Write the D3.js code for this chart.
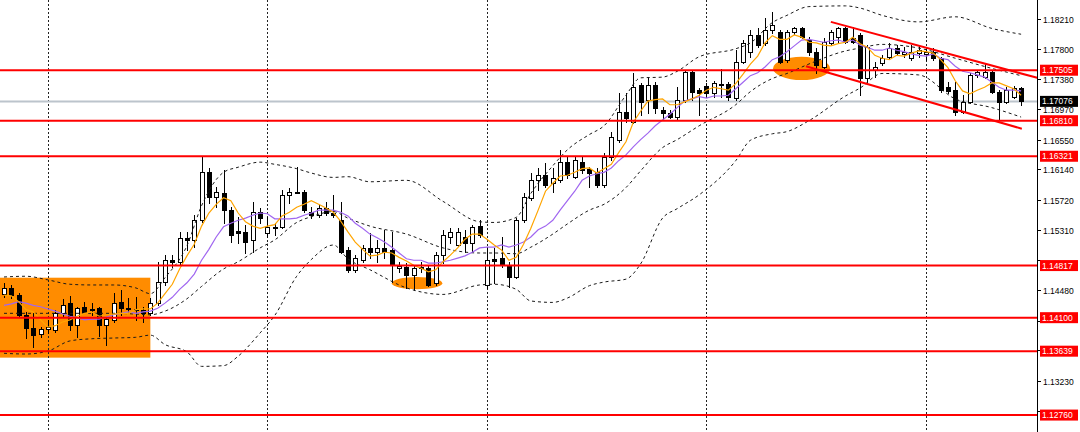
<!DOCTYPE html>
<html><head><meta charset="utf-8">
<script src="https://cdn.jsdelivr.net/npm/d3@7"></script>
<style>html,body{margin:0;padding:0;background:#fff;overflow:hidden}svg{display:block}</style>
</head><body><svg id="c" width="1080" height="432"></svg>
<script>
// ---- candle data (one entry per bar, oldest first) ----
const opens = [1.14427,1.14509,1.14413,1.14138,1.13959,1.13876,1.13945,1.13931,1.14165,1.14303,
1.14000,1.14248,1.14220,1.14234,1.14000,1.14069,1.14316,1.14234,1.14220,1.14206,
1.14165,1.14303,1.14592,1.14894,1.14867,1.15197,1.15170,1.15445,1.16104,1.15761,
1.15815,1.15582,1.15294,1.15280,1.15170,1.15555,1.15266,1.15349,1.15349,1.15788,
1.15829,1.15829,1.15555,1.15514,1.15610,1.15541,1.15445,1.15032,1.14757,1.14894,
1.15060,1.15005,1.15060,1.15032,1.14784,1.14798,1.14688,1.14798,1.14784,1.14578,
1.14963,1.15211,1.15101,1.15211,1.15129,1.15362,1.14551,1.14908,1.14922,1.14826,
1.14661,1.15445,1.15747,1.15994,1.16063,1.15953,1.15994,1.16242,1.16035,1.16242,
1.16145,1.16104,1.15925,1.16311,1.16545,1.16930,1.16792,1.17301,1.17095,1.17301,
1.16957,1.16916,1.16861,1.17095,1.17480,1.17233,1.17288,1.17191,1.17315,1.17315,
1.17123,1.17618,1.17755,1.17989,1.17879,1.18058,1.18031,1.17645,1.18031,1.18086,
1.17921,1.17755,1.17549,1.17879,1.17962,1.18086,1.17948,1.17989,1.17398,1.17508,
1.17604,1.17687,1.17811,1.17728,1.17673,1.17742,1.17728,1.17755,1.17673,1.17274,
1.17233,1.16930,1.17067,1.17439,1.17411,1.17480,1.17205,1.17067,1.17136,1.17260];
const highs = [1.14578,1.14551,1.14441,1.14179,1.14165,1.13973,1.14069,1.14206,1.14358,1.14399,
1.14248,1.14316,1.14303,1.14248,1.14110,1.14441,1.14482,1.14372,1.14386,1.14248,
1.14372,1.14867,1.14963,1.14963,1.15280,1.15280,1.15514,1.16311,1.16159,1.15898,
1.16132,1.15624,1.15486,1.15376,1.15692,1.15610,1.15486,1.15404,1.15857,1.15884,
1.16173,1.15857,1.15624,1.15651,1.15692,1.15788,1.15692,1.15074,1.14963,1.15101,
1.15266,1.15170,1.15307,1.15280,1.14867,1.14853,1.14826,1.14867,1.14826,1.15005,
1.15307,1.15335,1.15335,1.15307,1.15376,1.15445,1.15074,1.15060,1.15211,1.14867,
1.15472,1.15815,1.16090,1.16159,1.16228,1.16159,1.16407,1.16311,1.16311,1.16311,
1.16173,1.16159,1.16366,1.16655,1.17191,1.17191,1.17467,1.17329,1.17411,1.17343,
1.16999,1.16957,1.17274,1.17508,1.17508,1.17260,1.17329,1.17356,1.17522,1.17343,
1.17783,1.17921,1.18058,1.18086,1.18223,1.18306,1.18058,1.18058,1.18099,1.18099,
1.17962,1.17811,1.17948,1.18058,1.18099,1.18099,1.18099,1.18017,1.17852,1.17618,
1.17714,1.17879,1.17852,1.17824,1.17852,1.17852,1.17824,1.17811,1.17687,1.17343,
1.17343,1.17164,1.17467,1.17508,1.17604,1.17508,1.17233,1.17274,1.17288,1.17274];
const lows = [1.14386,1.14372,1.14124,1.13821,1.13697,1.13835,1.13890,1.13904,1.14110,1.13931,
1.13835,1.14165,1.14138,1.13849,1.13725,1.14041,1.14138,1.14165,1.14069,1.14041,
1.14138,1.14275,1.14551,1.14798,1.14826,1.15032,1.15074,1.15417,1.15679,1.15624,
1.15404,1.15142,1.15129,1.14991,1.15005,1.15404,1.15211,1.15239,1.15335,1.15679,
1.15815,1.15555,1.15472,1.15486,1.15514,1.15486,1.14991,1.14729,1.14729,1.14867,
1.14922,1.14867,1.14922,1.14592,1.14729,1.14509,1.14482,1.14729,1.14537,1.14551,
1.14853,1.15129,1.15087,1.15005,1.15005,1.15211,1.14509,1.14578,1.14798,1.14523,
1.14647,1.15417,1.15720,1.15857,1.15898,1.15829,1.15967,1.16021,1.16021,1.16090,
1.15898,1.15898,1.15898,1.16269,1.16517,1.16792,1.16778,1.16889,1.16916,1.16916,
1.16820,1.16847,1.16820,1.17067,1.17095,1.16889,1.17136,1.17136,1.17136,1.17095,
1.17095,1.17604,1.17687,1.17824,1.17852,1.18017,1.17604,1.17618,1.18003,1.17948,
1.17714,1.17467,1.17535,1.17852,1.17879,1.17879,1.17879,1.17164,1.17343,1.17411,
1.17577,1.17673,1.17714,1.17687,1.17645,1.17687,1.17645,1.17645,1.17205,1.17191,
1.16889,1.16916,1.17054,1.17411,1.17398,1.17191,1.16820,1.17054,1.17123,1.17026];
const closes = [1.14509,1.14413,1.14138,1.13959,1.13862,1.13945,1.13973,1.14165,1.14275,1.14000,
1.14234,1.14179,1.14206,1.14000,1.14083,1.14303,1.14234,1.14220,1.14206,1.14165,
1.14303,1.14592,1.14894,1.14867,1.15197,1.15170,1.15445,1.16104,1.15761,1.15829,
1.15582,1.15239,1.15266,1.15142,1.15555,1.15472,1.15349,1.15335,1.15788,1.15829,
1.15815,1.15582,1.15514,1.15610,1.15541,1.15514,1.15005,1.14757,1.14922,1.15060,
1.15005,1.15060,1.15005,1.14826,1.14812,1.14688,1.14784,1.14784,1.14551,1.14963,
1.15239,1.15280,1.15280,1.15129,1.15349,1.15239,1.14894,1.14881,1.14826,1.14661,
1.15445,1.15761,1.15994,1.16063,1.15925,1.16021,1.16242,1.16063,1.16269,1.16132,
1.16090,1.15925,1.16311,1.16586,1.16930,1.16847,1.17274,1.17067,1.17301,1.16985,
1.16916,1.16861,1.17095,1.17480,1.17205,1.17191,1.17191,1.17329,1.17301,1.17136,
1.17618,1.17879,1.17989,1.17852,1.18058,1.18127,1.17618,1.18031,1.18086,1.17962,
1.17755,1.17577,1.17893,1.18031,1.18086,1.17893,1.17893,1.17398,1.17824,1.17549,
1.17673,1.17811,1.17742,1.17755,1.17755,1.17783,1.17755,1.17673,1.17233,1.17219,
1.16930,1.17067,1.17439,1.17480,1.17480,1.17205,1.17067,1.17233,1.17260,1.17076];

// ---- moving averages (read per bar) ----
const maFast = [1.1441,1.1440,1.1432,1.1421,1.1418,1.1407,1.1397,1.1399,1.1404,1.1407,
1.1412,1.1416,1.1418,1.1412,1.1414,1.1415,1.1416,1.1416,1.1421,1.1422,
1.1422,1.1430,1.1443,1.1456,1.1477,1.1495,1.1511,1.1536,1.1554,1.1566,
1.1575,1.1571,1.1554,1.1542,1.1536,1.1533,1.1536,1.1538,1.1550,1.1555,
1.1562,1.1566,1.1571,1.1566,1.1561,1.1555,1.1543,1.1528,1.1514,1.1504,
1.1495,1.1496,1.1500,1.1499,1.1493,1.1488,1.1482,1.1478,1.1473,1.1476,
1.1487,1.1496,1.1506,1.1518,1.1525,1.1525,1.1518,1.1510,1.1503,1.1489,
1.1493,1.1511,1.1533,1.1558,1.1584,1.1595,1.1605,1.1606,1.1610,1.1615,
1.1616,1.1609,1.1615,1.1621,1.1637,1.1652,1.1679,1.1694,1.1708,1.1710,
1.1711,1.1703,1.1703,1.1707,1.1711,1.1716,1.1723,1.1727,1.1725,1.1723,
1.1732,1.1745,1.1759,1.1770,1.1788,1.1798,1.1793,1.1793,1.1799,1.1796,
1.1789,1.1788,1.1785,1.1784,1.1787,1.1789,1.1796,1.1787,1.1782,1.1771,
1.1767,1.1765,1.1771,1.1770,1.1774,1.1777,1.1776,1.1774,1.1765,1.1754,
1.1736,1.1722,1.1718,1.1723,1.1727,1.1733,1.1733,1.1729,1.1725,1.1716];
const maSlow = [1.1427,1.1429,1.1432,1.1430,1.1427,1.1425,1.1422,1.1419,1.1415,1.1412,
1.1410,1.1407,1.1408,1.1408,1.1411,1.1414,1.1416,1.1418,1.1416,1.1418,
1.1419,1.1423,1.1430,1.1438,1.1449,1.1458,1.1470,1.1489,1.1504,1.1521,
1.1535,1.1540,1.1544,1.1547,1.1551,1.1554,1.1553,1.1546,1.1546,1.1546,
1.1547,1.1551,1.1554,1.1558,1.1558,1.1558,1.1555,1.1550,1.1540,1.1533,
1.1525,1.1520,1.1514,1.1507,1.1499,1.1491,1.1489,1.1489,1.1485,1.1485,
1.1487,1.1489,1.1492,1.1495,1.1500,1.1506,1.1507,1.1507,1.1510,1.1507,
1.1510,1.1514,1.1521,1.1531,1.1536,1.1544,1.1558,1.1571,1.1584,1.1599,
1.1605,1.1608,1.1610,1.1616,1.1626,1.1634,1.1645,1.1655,1.1664,1.1674,
1.1682,1.1690,1.1699,1.1708,1.1711,1.1714,1.1712,1.1715,1.1715,1.1716,
1.1725,1.1734,1.1743,1.1747,1.1755,1.1765,1.1769,1.1776,1.1784,1.1792,
1.1793,1.1791,1.1789,1.1791,1.1792,1.1789,1.1792,1.1785,1.1782,1.1778,
1.1778,1.1781,1.1778,1.1776,1.1773,1.1771,1.1770,1.1773,1.1767,1.1765,
1.1756,1.1749,1.1747,1.1744,1.1741,1.1734,1.1727,1.1723,1.1723,1.1722];

// ---- Bollinger bands (sampled bars) ----
const bandIdx = [0,3,6,9,12,15,18,20,22,25,27,30,32,35,37,40,42,45,47,50,55,60,65,67,70,72,75,77,80,82,85,87,90,92,95,100,102,105,107,110,115,117,120,125,130,135,139];
const bandUpper = [1.1466,1.1467,1.1462,1.1456,1.1455,1.1455,1.1451,1.1443,1.1465,1.1509,1.1564,1.1610,1.1617,1.1624,1.1621,1.1615,1.1609,1.1603,1.1604,1.1597,1.1599,1.1570,1.1542,1.1541,1.1548,1.1581,1.1619,1.1641,1.1662,1.1674,1.1716,1.1740,1.1741,1.1749,1.1769,1.1780,1.1788,1.1816,1.1826,1.1838,1.1839,1.1836,1.1826,1.1817,1.1824,1.1808,1.1800];
const bandMiddle = [1.1416,1.1416,1.1416,1.1416,1.1416,1.1416,1.1415,1.1414,1.1419,1.1436,1.1453,1.1477,1.1487,1.1506,1.1517,1.1541,1.1549,1.1556,1.1547,1.1536,1.1525,1.1506,1.1499,1.1499,1.1498,1.1507,1.1525,1.1539,1.1558,1.1566,1.1589,1.1612,1.1644,1.1655,1.1674,1.1703,1.1721,1.1739,1.1746,1.1759,1.1777,1.1781,1.1786,1.1781,1.1767,1.1753,1.1743];
const bandLower = [1.1361,1.1360,1.1364,1.1378,1.1381,1.1382,1.1383,1.1386,1.1373,1.1363,1.1343,1.1344,1.1357,1.1389,1.1413,1.1467,1.1490,1.1510,1.1491,1.1476,1.1451,1.1442,1.1455,1.1456,1.1449,1.1433,1.1431,1.1437,1.1454,1.1459,1.1463,1.1484,1.1547,1.1560,1.1579,1.1626,1.1654,1.1663,1.1666,1.1681,1.1715,1.1726,1.1746,1.1744,1.1711,1.1699,1.1686];

// ---- levels, ticks, annotations ----
const levels = [1.17505, 1.16810, 1.16321, 1.14817, 1.14100, 1.13639, 1.12760];
const currentPrice = 1.17076;
const tickValues = [1.18210,1.17800,1.17380,1.16970,1.16550,1.16140,1.15720,1.15310,1.14890,1.14480,1.14060,1.13650,1.13230,1.12820];
const gridBars = [6, 36, 66, 96, 126];
const zoneRects = [[-0.6, 20, 1.1465, 1.1355]];            // [barFrom, barTo, priceTop, priceBottom]
const zoneEllipses = [[53.0, 59.9, 1.1466, 1.1449], [105.1, 112.9, 1.1769, 1.1737]];
const trendLines = [[113.0, 1.1817, 141.2, 1.1740], [109.6, 1.1756, 139.1, 1.1670]]; // [bar0, p0, bar1, p1]

// ---- drawing ----
const W = 1080, H = 432, axisX = 1037;
const svg = d3.select('#c');
const x = d3.scaleLinear().domain([0, 139]).range([4, 1021.1]);
const y = d3.scaleLinear().domain([1.12527, 1.18471]).range([H, 0]);
const bars = opens.map((o, i) => ({i, o, h: highs[i], l: lows[i], c: closes[i]}));

svg.append('rect').attr('width', W).attr('height', H).attr('fill', '#fff');

// background zones
const ORANGE = '#ff8c00';
svg.append('g').selectAll('rect').data(zoneRects).join('rect')
  .attr('x', d => Math.max(0, x(d[0]))).attr('y', d => y(d[2]))
  .attr('width', d => x(d[1]) - Math.max(0, x(d[0]))).attr('height', d => y(d[3]) - y(d[2]))
  .attr('fill', ORANGE);
svg.append('g').selectAll('ellipse').data(zoneEllipses).join('ellipse')
  .attr('cx', d => (x(d[0]) + x(d[1])) / 2).attr('cy', d => (y(d[2]) + y(d[3])) / 2)
  .attr('rx', d => (x(d[1]) - x(d[0])) / 2).attr('ry', d => (y(d[3]) - y(d[2])) / 2)
  .attr('fill', ORANGE);

// vertical grid
svg.append('g').selectAll('line').data(gridBars).join('line')
  .attr('x1', d => Math.round(x(d)) + 0.5).attr('x2', d => Math.round(x(d)) + 0.5)
  .attr('y1', 0).attr('y2', H)
  .attr('stroke', '#222').attr('stroke-width', 1).attr('stroke-dasharray', '2,2');

// current price line
svg.append('line').attr('x1', 0).attr('x2', axisX)
  .attr('y1', y(currentPrice)).attr('y2', y(currentPrice))
  .attr('stroke', '#bcc4cc').attr('stroke-width', 2);

// candles
const cg = svg.append('g').attr('shape-rendering', 'crispEdges');
bars.forEach(b => {
  const cx = Math.round(x(b.i));
  cg.append('rect').attr('x', cx).attr('y', Math.round(y(b.h)))
    .attr('width', 1).attr('height', Math.max(1, Math.round(y(b.l)) - Math.round(y(b.h)) + 1)).attr('fill', '#000');
  const top = Math.round(y(Math.max(b.o, b.c))), bot = Math.round(y(Math.min(b.o, b.c)));
  const hgt = Math.max(1, bot - top + 1);
  cg.append('rect').attr('x', cx - 2).attr('y', top).attr('width', 5).attr('height', hgt).attr('fill', '#000');
  if (b.c > b.o && hgt > 2) {
    cg.append('rect').attr('x', cx - 1).attr('y', top + 1).attr('width', 3).attr('height', hgt - 2).attr('fill', '#fff');
  }
});

// Bollinger bands
const bandLine = d3.line().x(d => x(d[0])).y(d => y(d[1])).curve(d3.curveMonotoneX);
[bandUpper, bandMiddle, bandLower].forEach(arr => {
  svg.append('path').datum(bandIdx.map((b, k) => [b, arr[k]]))
    .attr('d', bandLine).attr('fill', 'none')
    .attr('stroke', '#1a1a1a').attr('stroke-width', 1).attr('stroke-dasharray', '3,3');
});

// moving averages
const maLine = d3.line().x((d, i) => x(i)).y(d => y(d));
svg.append('path').datum(maSlow).attr('d', maLine).attr('fill', 'none')
  .attr('stroke', '#a066f0').attr('stroke-width', 1.2);
svg.append('path').datum(maFast).attr('d', maLine).attr('fill', 'none')
  .attr('stroke', '#ffa500').attr('stroke-width', 1.2);

// horizontal levels
svg.append('g').selectAll('line').data(levels).join('line')
  .attr('x1', 0).attr('x2', 1040)
  .attr('y1', d => y(d)).attr('y2', d => y(d))
  .attr('stroke', '#ff0000').attr('stroke-width', 2);

// trend channel
svg.append('g').selectAll('line').data(trendLines).join('line')
  .attr('x1', d => x(d[0])).attr('y1', d => y(d[1]))
  .attr('x2', d => x(d[2])).attr('y2', d => y(d[3]))
  .attr('stroke', '#ff0000').attr('stroke-width', 2);

// right price axis
svg.append('rect').attr('x', axisX + 1).attr('y', 0).attr('width', W - axisX - 1).attr('height', H).attr('fill', '#fff');
svg.append('line').attr('x1', axisX + 0.5).attr('x2', axisX + 0.5).attr('y1', 0).attr('y2', H)
  .attr('stroke', '#000').attr('stroke-width', 1);
const FONT = '"Liberation Sans", Arial, sans-serif';
const boxValues = levels.concat([currentPrice]);
const tg = svg.append('g');
tickValues.forEach(v => {
  const ty = Math.round(y(v)) + 0.5;
  tg.append('line').attr('x1', axisX).attr('x2', axisX + 4).attr('y1', ty).attr('y2', ty)
    .attr('stroke', '#000').attr('stroke-width', 1);
  // a tick label that sits under a price box is hidden by that box, as in the terminal
  const covered = boxValues.some(b => Math.abs(y(b) - y(v)) < 7);
  if (!covered) {
    tg.append('text').attr('x', axisX + 6).attr('y', ty + 3)
      .attr('font-family', FONT).attr('font-size', '8.5px').attr('fill', '#000')
      .text(d3.format('.5f')(v));
  }
});

// price labels for levels and current price
const labels = levels.map(v => ({v, bg: '#ff0000'})).concat([{v: currentPrice, bg: '#000'}]);
labels.forEach(d => {
  const ly = y(d.v);
  svg.append('rect').attr('x', 1040).attr('y', ly - 5.5).attr('width', 38).attr('height', 11).attr('fill', d.bg);
  svg.append('text').attr('x', 1042).attr('y', ly + 3)
    .attr('font-family', FONT).attr('font-size', '8.5px').attr('fill', '#fff')
    .text(d3.format('.5f')(d.v));
});
</script>
</body></html>
